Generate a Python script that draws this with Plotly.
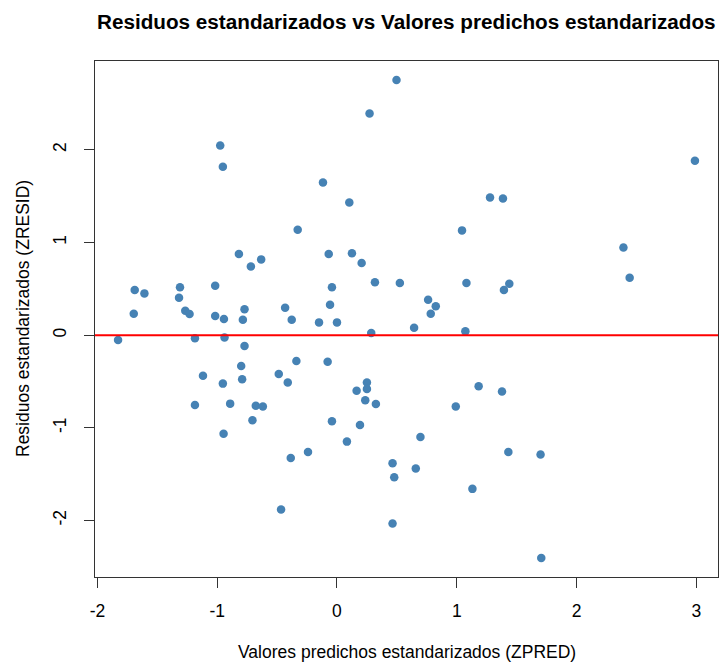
import plotly.graph_objects as go

zpred = [-0.975, -0.953, -0.328, -0.819, -0.633, -0.719, -1.689, -1.608, -1.311, -1.319,
         -1.017, -1.697, -1.267, -1.231, -1.017, -0.944, -0.772, -0.786, -0.433, -0.378,
         0.497, 0.272, -0.117, 0.103, 1.278, 1.386, 1.044, -0.069, 0.125, 0.206,
         0.317, 0.525, 1.081, 1.439, 1.394, -0.042, -0.058, 0.761, 0.825, 0.783,
         -0.150, 0.000, 0.644, 2.989, 2.392, 2.444, -1.828, -1.186, -0.939, -0.772,
         -0.800, -0.339, -1.119, -0.953, -0.792, -0.486, -0.411, -1.186, -0.892, -0.678,
         -0.619, -0.706, -0.947, -0.386, -0.242, -0.467, 0.286, 1.072, -0.078, 0.250,
         0.250, 0.164, 0.236, 0.325, 1.183, 1.378, 0.992, -0.042, 0.192, 0.697,
         0.083, 1.431, 0.464, 0.658, 0.478, 1.131, 0.464, 1.700, 1.706]
zresid = [2.047, 1.818, 1.138, 0.876, 0.818, 0.742, 0.487, 0.451, 0.516, 0.404,
          0.534, 0.232, 0.264, 0.229, 0.207, 0.175, 0.279, 0.167, 0.297, 0.167,
          2.753, 2.393, 1.648, 1.433, 1.487, 1.476, 1.131, 0.876, 0.883, 0.779,
          0.570, 0.563, 0.563, 0.556, 0.487, 0.516, 0.329, 0.383, 0.311, 0.232,
          0.138, 0.138, 0.081, 1.882, 0.947, 0.620, -0.052, -0.034, -0.024, -0.117,
          -0.333, -0.279, -0.437, -0.523, -0.476, -0.419, -0.512, -0.753, -0.739, -0.761,
          -0.771, -0.919, -1.063, -1.325, -1.260, -1.882, 0.024, 0.041, -0.286, -0.512,
          -0.581, -0.599, -0.703, -0.742, -0.552, -0.609, -0.771, -0.930, -0.969, -1.098,
          -1.149, -1.260, -1.383, -1.440, -1.534, -1.659, -2.033, -1.289, -2.404]

x_ticks = [-2, -1, 0, 1, 2, 3]
y_ticks = [-2, -1, 0, 1, 2]

title_text = "Residuos estandarizados vs Valores predichos estandarizados"
x_title = "Valores predichos estandarizados (ZPRED)"
y_title = "Residuos estandarizados (ZRESID)"

FONT = "Liberation Sans, Arial, sans-serif"

xr = [min(zpred), max(zpred)]
yr = [min(zresid), max(zresid)]
xpad = 0.04 * (xr[1] - xr[0])
ypad = 0.04 * (yr[1] - yr[0])

fig = go.Figure()
fig.add_trace(go.Scatter(
    x=zpred, y=zresid, mode="markers",
    marker=dict(color="#4682B4", size=8.5, line=dict(width=0)),
    showlegend=False, hoverinfo="x+y"))

fig.add_shape(type="line", xref="paper", x0=0, x1=1, yref="y", y0=0, y1=0,
              line=dict(color="#FF0000", width=2))

axis_common = dict(showgrid=False, zeroline=False, showline=True, mirror=True,
                   linecolor="#333333", linewidth=1, ticks="outside", ticklen=10,
                   tickcolor="#333333", tickwidth=1,
                   tickfont=dict(family=FONT, size=17.5, color="#000000"))

fig.update_layout(
    width=721, height=662,
    margin=dict(l=95, r=3, t=61, b=85),
    paper_bgcolor="white", plot_bgcolor="white",
    xaxis=dict(range=[xr[0] - xpad, xr[1] + xpad], tickvals=x_ticks,
               ticktext=[str(v) for v in x_ticks], ticklabelstandoff=8,
               **axis_common),
    yaxis=dict(range=[yr[0] - ypad, yr[1] + ypad], tickvals=y_ticks,
               ticktext=[str(v) for v in y_ticks], tickangle=-90,
               ticklabelstandoff=11, **axis_common),
    annotations=[
        dict(text="<b>" + title_text + "</b>", xref="paper", yref="paper",
             x=0.5, y=1, yshift=40, xanchor="center", yanchor="middle",
             showarrow=False, font=dict(family=FONT, size=20.7, color="#000000")),
        dict(text=x_title, xref="paper", yref="paper", x=0.5, y=0, yshift=-75,
             xanchor="center", yanchor="middle", showarrow=False,
             font=dict(family=FONT, size=17.5, color="#000000")),
        dict(text=y_title, xref="paper", yref="paper", x=0, y=0.5, xshift=-72,
             xanchor="center", yanchor="middle", textangle=-90, showarrow=False,
             font=dict(family=FONT, size=17.5, color="#000000")),
    ],
)

fig.write_html("out.html",
               config={"displayModeBar": False},
               post_script="document.body.style.margin='0';document.body.style.overflow='hidden';")
